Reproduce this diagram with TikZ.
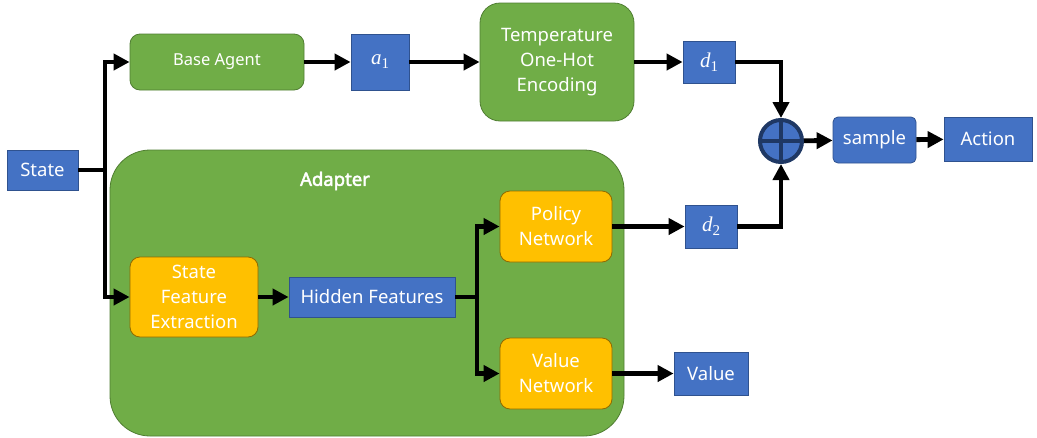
\documentclass[tikz,border=0pt]{standalone}
\usepackage{fontspec}
\setmainfont{Noto Sans}
\newfontfamily\mathserif{Liberation Serif}
\newfontfamily\adapterfont{Noto Sans}[FakeBold=2.5]
\usetikzlibrary{arrows.meta}
\definecolor{bluef}{HTML}{4472C4}
\definecolor{blued}{HTML}{2F528F}
\definecolor{greenf}{HTML}{70AD47}
\definecolor{greend}{HTML}{507E32}
\definecolor{yellowf}{HTML}{FFC000}
\definecolor{yellowd}{HTML}{8F6A00}
\definecolor{navy}{HTML}{1F3864}
\newcommand{\mvar}[2]{{\mathserif\fontsize{21}{21}\selectfont\itshape #1\raisebox{-4pt}{\upshape\fontsize{15}{15}\selectfont #2}}}
\tikzset{
  base/.style={draw, line width=0.8pt, text=white, align=center, inner sep=0pt, font=\fontsize{18.5}{25}\selectfont},
  bluebox/.style={base, fill=bluef, draw=blued},
  bluer/.style={bluebox, rounded corners=5pt},
  greenbox/.style={base, fill=greenf, draw=greend, rounded corners=10pt},
  yellowbox/.style={base, fill=yellowf, draw=yellowd, rounded corners=10pt},
  conn/.style={line width=4.8pt, -{Triangle[length=16pt,width=16pt]}},
  plain/.style={line width=4.8pt}
}
\begin{document}
\begin{tikzpicture}[x=1pt,y=-1pt]
\useasboundingbox (0,0) rectangle (1037,437);
% Adapter container
\node[draw=greend, fill=greenf, line width=0.8pt, rounded corners=40pt, minimum width=514pt, minimum height=286pt, inner sep=0pt] (adapter) at (367,293) {};
\node[text=white, font=\adapterfont\fontsize{18.5}{22}\selectfont] (adaptertitle) at (335,181) {Adapter};

\node[bluebox, minimum width=71pt, minimum height=40pt] (state) at (42.5,170) {State};
\node[greenbox, minimum width=174pt, minimum height=56pt, font=\fontsize{16.5}{20}\selectfont] (base) at (217,62) {Base Agent};
\node[bluebox, minimum width=58pt, minimum height=56pt] (a1) at (380,62) {\mvar{a}{1}};
\node[greenbox, rounded corners=20pt, minimum width=154pt, minimum height=118pt] (temp) at (557,62) {Temperature\\One-Hot\\Encoding};
\node[bluebox, minimum width=52pt, minimum height=42pt] (d1) at (709,62) {\mvar{d}{1}};
\node[circle, draw=navy, line width=4pt, fill=bluef, minimum size=42pt, inner sep=0pt] (plus) at (781,141) {};
\draw[navy, line width=4pt] (plus.north) -- (plus.south) (plus.west) -- (plus.east);
\node[bluer, minimum width=83pt, minimum height=46pt] (sample) at (874.5,140) {sample};
\node[bluebox, minimum width=88pt, minimum height=44pt] (action) at (988,139) {Action};

\node[yellowbox, minimum width=128pt, minimum height=80pt] (sfe) at (194,297) {State\\Feature\\Extraction};
\node[bluebox, minimum width=166pt, minimum height=40pt] (hidden) at (372,297) {Hidden Features};
\node[yellowbox, minimum width=112pt, minimum height=71pt] (policy) at (556,226.5) {Policy\\Network};
\node[yellowbox, minimum width=112pt, minimum height=71pt] (valuenet) at (556,373.5) {Value\\Network};
\node[bluebox, minimum width=52pt, minimum height=43pt] (d2) at (711,226.5) {\mvar{d}{2}};
\node[bluebox, minimum width=74pt, minimum height=43pt] (value) at (711,373.5) {Value};

\coordinate (sj) at (105,170);
\coordinate (hj) at (477,297);
\draw[plain] (state.east) -- (sj);
\draw[conn] (sj) |- (base.west);
\draw[conn] (sj) |- (sfe.west);
\draw[conn] (base) -- (a1);
\draw[conn] (a1) -- (temp);
\draw[conn] (temp.east |- d1) -- (d1);
\draw[conn] (d1.east) -| (plus.north);
\draw[conn] (d2.east) -| (plus.south);
\draw[conn] (plus) -- (sample);
\draw[conn] (sample) -- (action);
\draw[conn] (sfe) -- (hidden);
\draw[plain] (hidden.east) -- (hj);
\draw[conn] (hj) |- (policy.west);
\draw[conn] (hj) |- (valuenet.west);
\draw[conn] (policy) -- (d2);
\draw[conn] (valuenet) -- (value);
\end{tikzpicture}
\end{document}
